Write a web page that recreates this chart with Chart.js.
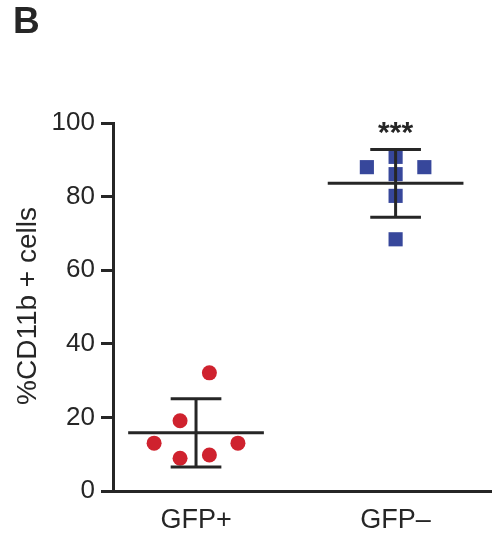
<!DOCTYPE html>
<html>
<head>
<meta charset="utf-8">
<script src="https://cdn.jsdelivr.net/npm/chart.js@4/dist/chart.umd.min.js"></script>
<style>
  html, body { margin: 0; padding: 0; background: #fff; }
  #wrap { width: 501px; height: 539px; }
</style>
</head>
<body>
<div id="wrap"><canvas id="scatterChart"></canvas></div>
<script>
// groups on the x axis
const groups = ["GFP+", "GFP\u2013"];
const groupPos = [1, 2];

// GFP+ cells (red dots), x = jittered position
const redX = [1.067, 0.92, 0.79, 1.21, 0.92, 1.067];
const redY = [32.1, 19.1, 13.0, 13.0, 8.9, 9.8];

// GFP- cells (blue squares)
const blueX = [1.856, 2.144, 2.0, 2.0, 2.0, 2.0];
const blueY = [88.0, 88.0, 90.8, 86.1, 80.2, 68.4];

// mean and SD
const means = [15.8, 83.6];
const sds = [9.3, 9.2];

const yTicks = [0, 20, 40, 60, 80, 100];

const INK = "#262626";
const FONT = "'Liberation Sans', Arial, sans-serif";

function toPoints(xs, ys) {
    return xs.map((x, i) => ({ x: x, y: ys[i] }));
}

function segment(a, b) {
    return {
        type: "line",
        data: [a, b],
        borderColor: INK,
        borderWidth: 3,
        pointRadius: 0,
        showLine: true,
        order: 0
    };
}

// mean line + error bar for each group
const barSets = [];
groupPos.forEach((g, i) => {
    const m = means[i], s = sds[i];
    barSets.push(segment({ x: g - 0.34, y: m }, { x: g + 0.34, y: m }));
    barSets.push(segment({ x: g, y: m - s }, { x: g, y: m + s }));
    barSets.push(segment({ x: g - 0.127, y: m + s }, { x: g + 0.127, y: m + s }));
    barSets.push(segment({ x: g - 0.127, y: m - s }, { x: g + 0.127, y: m - s }));
});

const extraText = {
    id: "extraText",
    afterDraw(chart) {
        const ctx = chart.ctx;
        const xs = chart.scales.x;
        ctx.save();
        ctx.fillStyle = INK;

        ctx.font = "bold 37px " + FONT;
        ctx.textAlign = "left";
        ctx.textBaseline = "alphabetic";
        ctx.fillText("B", 13, 33);

        ctx.font = "bold 30px " + FONT;
        ctx.textAlign = "center";
        ctx.fillText("***", xs.getPixelForValue(groupPos[1]), 142);

        ctx.font = "28px " + FONT;
        ctx.translate(36, 306);
        ctx.rotate(-Math.PI / 2);
        ctx.textBaseline = "alphabetic";
        ctx.fillText("%CD11b + cells", 0, 0);
        ctx.restore();
    }
};

new Chart(document.getElementById("scatterChart"), {
    type: "scatter",
    data: {
        datasets: [
            ...barSets,
            {
                label: groups[0],
                data: toPoints(redX, redY),
                pointStyle: "circle",
                pointRadius: 7.5,
                backgroundColor: "#cf222e",
                borderWidth: 0,
                order: 1
            },
            {
                label: groups[1],
                data: toPoints(blueX, blueY),
                pointStyle: "rect",
                pointRadius: 10,
                backgroundColor: "#37479b",
                borderWidth: 0,
                order: 1
            }
        ]
    },
    options: {
        responsive: true,
        maintainAspectRatio: false,
        animation: false,
        layout: { padding: { top: 123, right: 0, left: 0, bottom: 0 } },
        plugins: {
            legend: { display: false },
            tooltip: { enabled: false }
        },
        scales: {
            x: {
                type: "linear",
                min: 0.584,
                max: 2.478,
                afterBuildTicks: (scale) => {
                    scale.ticks = groupPos.map(v => ({ value: v }));
                },
                afterFit: (scale) => {
                    scale.height = 48;
                    scale.paddingLeft = 0;
                    scale.paddingRight = 0;
                },
                ticks: {
                    callback: (v) => groups[groupPos.indexOf(v)] || "",
                    color: INK,
                    font: { family: FONT, size: 27 },
                    padding: 13,
                    maxRotation: 0
                },
                grid: { display: false, drawTicks: false },
                border: { display: true, color: INK, width: 3 }
            },
            y: {
                min: 0,
                max: 100,
                afterBuildTicks: (scale) => {
                    scale.ticks = yTicks.map(v => ({ value: v }));
                },
                afterFit: (scale) => {
                    scale.width = 113;
                    scale.paddingTop = 0;
                    scale.paddingBottom = 0;
                },
                ticks: {
                    color: INK,
                    font: { family: FONT, size: 26 },
                    padding: 6
                },
                grid: {
                    drawOnChartArea: false,
                    drawTicks: true,
                    tickLength: 12,
                    tickWidth: 3,
                    tickColor: INK
                },
                border: { display: true, color: INK, width: 3 }
            }
        }
    },
    plugins: [extraText]
});
</script>
</body>
</html>
